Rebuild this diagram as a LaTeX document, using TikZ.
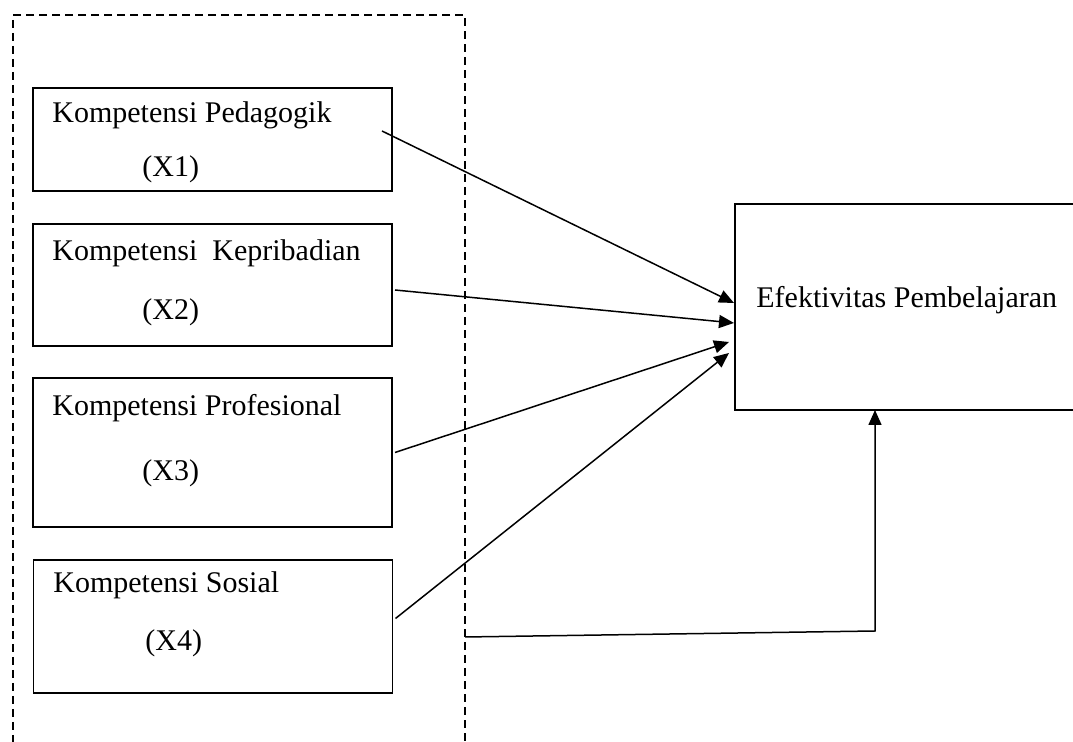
\documentclass[tikz,border=0pt]{standalone}
\usepackage{fontspec}
\setmainfont{Liberation Serif}
\usetikzlibrary{arrows.meta, calc, positioning}

\begin{document}
\begin{tikzpicture}[x=0.5pt, y=-0.5pt]
    % Define styles
    \tikzstyle{box} = [rectangle, draw=black, line width=0.9pt, inner sep=0pt, outer sep=0pt, minimum width=179.5pt]
    \tikzstyle{lbl} = [anchor=base west, inner sep=0pt, font=\fontsize{15}{18}\selectfont]
    \tikzstyle{group} = [rectangle, draw=black, line width=0.8pt, dash pattern=on 4pt off 2.5pt, inner sep=0pt, outer sep=0pt, minimum width=226pt, minimum height=377.5pt]
    \tikzstyle{arrow} = [line width=0.75pt, -{Triangle[length=7.5pt, width=6.5pt]}]

    \useasboundingbox (0,0) rectangle (1073,742);

    % Nodes
    \node (grp) [group] at (239,392.5) {};
    \node (x1) [box, minimum height=51.5pt] at (212.5,139.5) {};
    \node (x2) [box, minimum height=61pt] at (212.5,285) {};
    \node (x3) [box, minimum height=74.5pt] at (212.5,452.5) {};
    \node (x4) [box, minimum height=66.5pt] at (213,626.5) {};
    \node (eff) [box, minimum width=182.5pt, minimum height=103pt] at (917.5,307) {};

    % Texts
    \node (x1a) [lbl] at (52,123) {Kompetensi Pedagogik};
    \node (x1b) [lbl] at (142,177) {(X1)};
    \node (x2a) [lbl] at (52,261) {Kompetensi\ \ Kepribadian};
    \node (x2b) [lbl] at (142,320) {(X2)};
    \node (x3a) [lbl] at (52,416) {Kompetensi Profesional};
    \node (x3b) [lbl] at (142,481) {(X3)};
    \node (x4a) [lbl] at (53,593) {Kompetensi Sosial};
    \node (x4b) [lbl] at (145,651) {(X4)};
    \node (effa) [lbl] at (756,308) {Efektivitas Pembelajaran};

    % Arrows
    \draw [arrow] ($(x1.east)+(-10,-8.5)$) -- ($(eff.west)+(-1,-4)$);
    \draw [arrow] ($(x2.east)+(3,5)$) -- ($(eff.west)+(-1,16)$);
    \draw [arrow] ($(x3.east)+(3,0)$) -- ($(eff.west)+(-6,35)$);
    \draw [arrow] ($(x4.east)+(3,-8)$) -- ($(eff.west)+(-6,46)$);
    \coordinate (bend) at ($(eff.south)+(-42.5,221)$);
    \draw [arrow] ($(grp.east)+(0,244.5)$) -- (bend) -- (bend |- eff.south);
\end{tikzpicture}
\end{document}
